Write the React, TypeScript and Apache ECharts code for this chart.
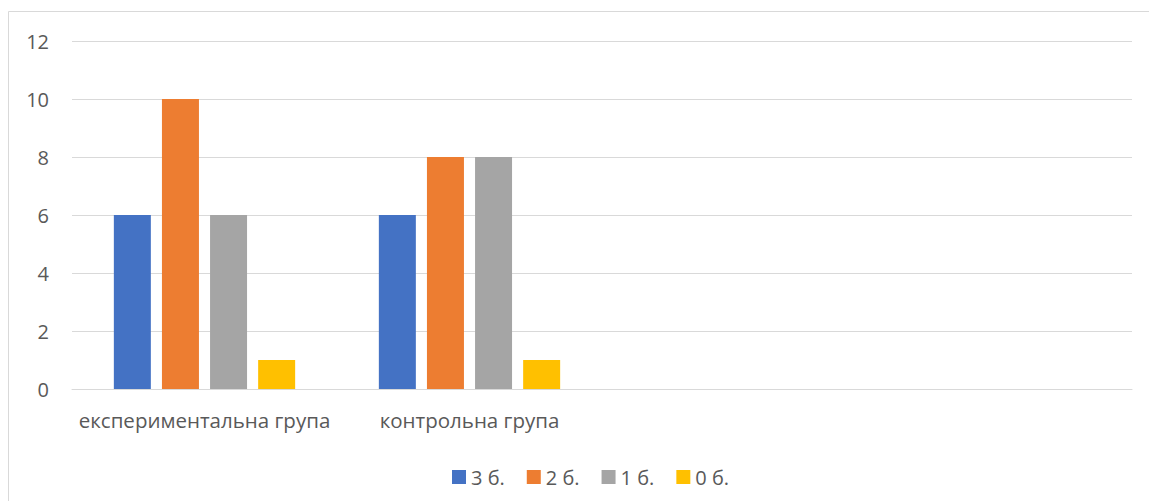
import React, { useEffect, useRef } from "react";
import * as echarts from "echarts";

const categories = ["експериментальна група", "контрольна група", "", ""];
const seriesNames = ["3 б.", "2 б.", "1 б.", "0 б."];
const s3 = [6, 6, null, null];
const s2 = [10, 8, null, null];
const s1 = [6, 8, null, null];
const s0 = [1, 1, null, null];
const colors = ["#4472C4", "#ED7D31", "#A5A5A5", "#FFC000"];
const yTicks = { min: 0, max: 12, interval: 2 };

export default function App() {
  const ref = useRef<HTMLDivElement>(null);
  useEffect(() => {
    const chart = echarts.init(ref.current!, null, { renderer: "svg" });
    const data = [s3, s2, s1, s0];
    const font = "Open Sans";
    chart.setOption({
      animation: false,
      textStyle: { fontFamily: font },
      graphic: [
        {
          type: "rect",
          shape: { x: 8.5, y: 11.5, width: 1200, height: 600 },
          style: { fill: "none", stroke: "#d9d9d9", lineWidth: 1 },
          silent: true,
        },
      ],
      grid: { left: 72, right: 17, top: 41, bottom: 112, containLabel: false },
      legend: {
        data: seriesNames,
        top: 462,
        left: 447,
        itemWidth: 14,
        itemHeight: 14,
        itemGap: 22,
        icon: "rect",
        textStyle: { color: "#595959", fontSize: 20, fontFamily: font },
      },
      xAxis: {
        type: "category",
        data: categories,
        axisLine: { lineStyle: { color: "#d9d9d9" } },
        axisTick: { show: false },
        axisLabel: { color: "#595959", fontSize: 20.5, margin: 20, interval: 0, fontFamily: font },
      },
      yAxis: {
        type: "value",
        min: yTicks.min,
        max: yTicks.max,
        interval: yTicks.interval,
        axisLine: { show: false },
        axisTick: { show: false },
        splitLine: { lineStyle: { color: "#d9d9d9" } },
        axisLabel: { color: "#595959", fontSize: 20, margin: 23, fontFamily: font },
      },
      series: seriesNames.map((n, i) => ({
        name: n,
        type: "bar",
        data: data[i],
        barWidth: 37,
        barGap: "30%",
        itemStyle: { color: colors[i] },
      })),
    });
    return () => chart.dispose();
  }, []);
  return (
    <div
      ref={ref}
      style={{ position: "fixed", left: 0, top: 0, width: 1149, height: 501, background: "#fff" }}
    />
  );
}
